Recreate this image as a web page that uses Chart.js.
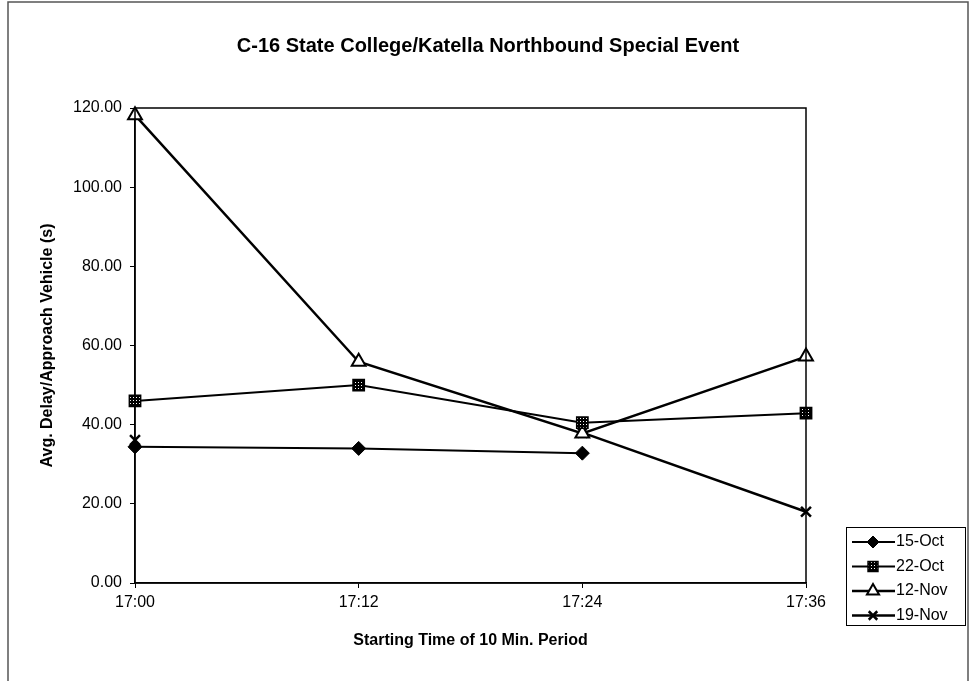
<!DOCTYPE html>
<html>
<head>
<meta charset="utf-8">
<script src="https://cdn.jsdelivr.net/npm/chart.js@4.4.1/dist/chart.umd.min.js"></script>
<style>
    html, body { margin: 0; padding: 0; background: #fff; }
</style>
</head>
<body>
<canvas id="delayChart" width="971" height="681"></canvas>
<script>
// data
const periods = ['17:00', '17:12', '17:24', '17:36'];
const seriesNames = ['15-Oct', '22-Oct', '12-Nov', '19-Nov'];
const oct15 = [34.4, 34.0, 32.8, null];
const oct22 = [46.0, 50.0, 40.5, 42.9];
const nov12 = [118.2, 55.9, 37.8, 57.2];
const nov19 = [36.1, null, 38.0, 18.0];
const yTicks = [0, 20, 40, 60, 80, 100, 120];

const chartTitle = 'C-16 State College/Katella Northbound Special Event';
const FONT = '"Liberation Sans", Arial, sans-serif';

document.addEventListener('DOMContentLoaded', () => {
    const canvas = document.getElementById('delayChart');
    const ctx = canvas.getContext('2d');

    // dotted fill for the 22-Oct squares
    const tile = document.createElement('canvas');
    tile.width = 3; tile.height = 3;
    const tctx = tile.getContext('2d');
    tctx.fillStyle = '#000';
    tctx.fillRect(0, 0, 3, 3);
    tctx.fillStyle = '#fff';
    tctx.fillRect(1, 1, 1, 1);
    const dotted = ctx.createPattern(tile, 'repeat');

    const makeSet = (label, data, style, radius, fill, lineW, markW) => ({
        label: label,
        data: data,
        borderColor: '#000',
        borderWidth: lineW,
        pointStyle: style,
        pointRadius: radius,
        pointBackgroundColor: fill,
        pointBorderColor: '#000',
        pointBorderWidth: markW,
        tension: 0,
        spanGaps: false,
        clip: false
    });

    const datasets = [
        makeSet(seriesNames[0], oct15, 'rectRot', 7, '#000', 2, 1),
        makeSet(seriesNames[1], oct22, 'rect', 8, dotted, 2, 1.5),
        makeSet(seriesNames[2], nov12, 'triangle', 8, '#fff', 2.5, 2),
        makeSet(seriesNames[3], nov19, 'crossRot', 7, '#000', 2.5, 2.5)
    ];

    // outer frame, title and plot box
    const frame = {
        id: 'frame',
        beforeDraw(chart) {
            const c = chart.ctx;
            c.save();
            c.fillStyle = '#fff';
            c.fillRect(0, 0, chart.width, chart.height);
            c.strokeStyle = '#555';
            c.lineWidth = 1.5;
            c.beginPath();
            c.moveTo(8, chart.height);
            c.lineTo(8, 2);
            c.lineTo(968, 2);
            c.lineTo(968, chart.height);
            c.stroke();
            c.fillStyle = '#000';
            c.font = 'bold 20px ' + FONT;
            c.textAlign = 'center';
            c.textBaseline = 'middle';
            c.fillText(chartTitle, 488, 46);
            c.restore();
        },
        afterDatasetsDraw(chart) {
            const a = chart.chartArea;
            const c = chart.ctx;
            c.save();
            c.strokeStyle = '#000';
            c.lineWidth = 1.5;
            c.strokeRect(a.left, a.top, a.right - a.left, a.bottom - a.top);
            c.restore();
        }
    };

    // legend box drawn like the original (line through marker)
    const boxLegend = {
        id: 'boxLegend',
        afterDraw(chart) {
            const c = chart.ctx;
            c.save();
            c.strokeStyle = '#000';
            c.lineWidth = 1;
            c.strokeRect(846.5, 527.5, 119, 98);
            c.font = '16px ' + FONT;
            c.textBaseline = 'middle';
            chart.data.datasets.forEach((ds, i) => {
                const cy = 542 + i * 24.5;
                c.strokeStyle = '#000';
                c.lineWidth = ds.borderWidth;
                c.beginPath();
                c.moveTo(852, cy);
                c.lineTo(895, cy);
                c.stroke();
                c.fillStyle = ds.pointBackgroundColor;
                c.lineWidth = ds.pointBorderWidth;
                Chart.helpers.drawPoint(c, {
                    pointStyle: ds.pointStyle,
                    radius: ds.pointRadius - 1,
                    borderWidth: ds.pointBorderWidth,
                    rotation: 0
                }, 873, cy);
                c.fillStyle = '#000';
                c.fillText(ds.label, 896, cy);
            });
            c.restore();
        }
    };

    new Chart(canvas, {
        type: 'line',
        data: { labels: periods, datasets: datasets },
        options: {
            responsive: false,
            animation: false,
            layout: { padding: { left: 8, right: 165, top: 108, bottom: 0 } },
            plugins: {
                legend: { display: false },
                tooltip: { enabled: false },
                title: { display: false }
            },
            scales: {
                x: {
                    type: 'category',
                    offset: false,
                    afterFit: (s) => { s.height = 98; },
                    grid: { drawOnChartArea: false, tickLength: 5, color: '#000', lineWidth: 1 },
                    border: { color: '#000', width: 1.5 },
                    ticks: {
                        color: '#000',
                        padding: 5,
                        maxRotation: 0,
                        font: { family: FONT, size: 16 }
                    },
                    title: {
                        display: true,
                        text: 'Starting Time of 10 Min. Period',
                        color: '#000',
                        font: { family: FONT, size: 16, weight: 'bold' },
                        padding: { top: 0, bottom: 31 }
                    }
                },
                y: {
                    min: yTicks[0],
                    max: yTicks[yTicks.length - 1],
                    afterFit: (s) => { s.width = 127; },
                    afterBuildTicks: (s) => { s.ticks = yTicks.map(v => ({ value: v })); },
                    grid: { drawOnChartArea: false, tickLength: 5, color: '#000', lineWidth: 1 },
                    border: { color: '#000', width: 1.5 },
                    ticks: {
                        color: '#000',
                        padding: 8,
                        font: { family: FONT, size: 16 },
                        callback: (v) => Number(v).toFixed(2)
                    },
                    title: {
                        display: true,
                        text: 'Avg. Delay/Approach Vehicle (s)',
                        color: '#000',
                        font: { family: FONT, size: 16, weight: 'bold' },
                        padding: { top: 30, bottom: 0 }
                    }
                }
            }
        },
        plugins: [frame, boxLegend]
    });
});
</script>
</body>
</html>
